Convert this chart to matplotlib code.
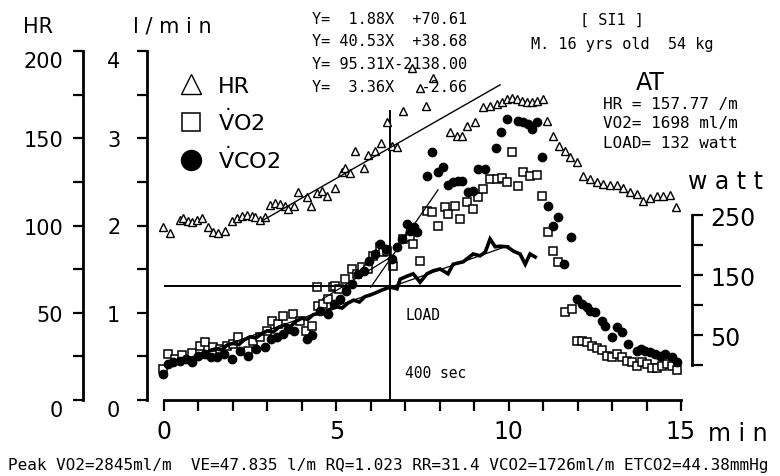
"""
Exercise test summary plot (subject SI1): HR, VO2, VCO2 and load vs time,
with the anaerobic threshold (AT) marked.
"""
import matplotlib
matplotlib.use("Agg")
import matplotlib.pyplot as plt
from matplotlib.ticker import FixedLocator, FuncFormatter
import numpy as np

# ---- data --------------------------------------------------------------
hr_t = [-0.02, 0.17, 0.46, 0.56, 0.71, 0.80, 0.95, 1.09, 1.29, 1.43,
        1.58, 1.77, 1.97, 2.11, 2.26, 2.40, 2.55, 2.64, 2.79, 2.93,
        3.08, 3.22, 3.37, 3.51, 3.61, 3.78, 3.90, 4.14, 4.27, 4.43,
        4.58, 4.72, 4.96, 5.16, 5.25, 5.40, 5.54, 5.79, 5.93, 6.12,
        6.30, 6.46, 6.61, 6.75, 6.94, 7.20, 7.43, 7.61, 7.81, 8.30,
        8.50, 8.64, 8.79, 9.03, 9.26, 9.46, 9.66, 9.80, 9.95, 10.09,
        10.24, 10.38, 10.53, 10.67, 10.82, 11.01, 11.12, 11.30, 11.45, 11.64,
        11.79, 11.98, 12.17, 12.37, 12.56, 12.75, 12.95, 13.14, 13.33, 13.53,
        13.72, 13.91, 14.11, 14.30, 14.49, 14.69, 14.86]
hr = [99.0, 95.5, 103.2, 104.3, 102.8, 101.8, 103.2, 104.3, 99.0, 96.1,
      95.7, 97.0, 102.8, 104.3, 105.6, 106.0, 105.3, 104.7, 103.3, 104.7,
      111.9, 112.9, 112.3, 111.3, 109.5, 111.0, 119.0, 116.2, 111.3, 118.6,
      119.9, 117.1, 121.5, 130.5, 132.8, 129.9, 142.5, 132.8, 140.4, 142.5,
      147.1, 159.1, 145.7, 144.8, 165.8, 190.3, 178.8, 168.7, 184.5, 153.6,
      151.5, 151.5, 157.2, 159.1, 167.9, 168.7, 169.6, 170.6, 172.5, 172.9,
      172.5, 171.5, 170.6, 170.9, 171.5, 172.5, 160.1, 151.1, 145.4, 142.9,
      139.1, 136.2, 128.5, 126.6, 124.8, 123.8, 123.2, 123.2, 121.3, 119.0,
      118.1, 114.2, 115.6, 117.1, 117.1, 117.5, 110.4]

vo2_t = [-0.03, 0.12, 0.32, 0.52, 0.81, 1.04, 1.19, 1.42, 1.63, 1.83,
         2.00, 2.15, 2.44, 2.58, 2.79, 2.99, 3.13, 3.31, 3.45, 3.74,
         3.95, 4.12, 4.30, 4.44, 4.47, 4.62, 4.76, 4.91, 4.96, 5.08,
         5.25, 5.46, 5.60, 5.75, 5.92, 6.07, 6.27, 6.36, 6.47, 6.65,
         6.94, 7.14, 7.23, 7.43, 7.63, 7.78, 7.95, 8.16, 8.24, 8.45,
         8.59, 8.80, 8.97, 9.11, 9.26, 9.46, 9.67, 9.81, 9.96, 10.10,
         10.28, 10.42, 10.62, 10.83, 10.97, 11.15, 11.29, 11.44, 11.64, 11.84,
         11.99, 12.13, 12.28, 12.42, 12.57, 12.71, 12.86, 13.00, 13.15, 13.29,
         13.44, 13.58, 13.73, 13.88, 14.02, 14.17, 14.31, 14.46, 14.60, 14.75,
         14.89]
vo2 = [0.36, 0.53, 0.47, 0.52, 0.54, 0.62, 0.66, 0.61, 0.58, 0.62,
       0.64, 0.72, 0.56, 0.68, 0.72, 0.79, 0.91, 0.87, 0.96, 0.99,
       0.91, 0.79, 0.85, 1.30, 1.08, 1.10, 1.16, 1.29, 1.31, 1.27,
       1.39, 1.50, 1.44, 1.52, 1.50, 1.65, 1.75, 1.70, 1.71, 1.54,
       1.85, 1.87, 1.79, 1.59, 2.17, 2.15, 1.99, 2.21, 2.13, 2.22,
       2.07, 2.27, 2.19, 2.33, 2.42, 2.53, 2.53, 2.54, 2.50, 2.84,
       2.45, 2.61, 2.57, 2.58, 2.34, 1.93, 1.71, 1.58, 1.01, 1.04,
       0.68, 0.68, 0.66, 0.62, 0.60, 0.57, 0.51, 0.49, 0.53, 0.49,
       0.45, 0.43, 0.39, 0.43, 0.41, 0.37, 0.37, 0.39, 0.41, 0.39,
       0.34]

vco2_t = [-0.03, 0.12, 0.26, 0.46, 0.64, 0.81, 0.99, 1.19, 1.36, 1.54,
          1.74, 1.97, 2.21, 2.44, 2.67, 2.93, 3.11, 3.28, 3.45, 3.60,
          3.77, 4.15, 4.30, 4.53, 4.76, 4.93, 5.11, 5.28, 5.46, 5.63,
          5.81, 5.95, 6.12, 6.27, 6.44, 6.62, 6.76, 6.91, 7.05, 7.14,
          7.26, 7.34, 7.63, 7.78, 7.95, 8.10, 8.24, 8.39, 8.53, 8.65,
          8.82, 8.97, 9.11, 9.32, 9.64, 9.78, 9.96, 10.28, 10.42, 10.57,
          10.68, 10.83, 10.97, 11.15, 11.29, 11.44, 11.60, 11.81, 11.99, 12.13,
          12.28, 12.37, 12.51, 12.71, 12.80, 13.00, 13.15, 13.29, 13.47, 13.73,
          13.85, 13.96, 14.11, 14.25, 14.40, 14.54, 14.75, 14.89]
vco2 = [0.30, 0.41, 0.44, 0.45, 0.47, 0.44, 0.50, 0.53, 0.49, 0.49,
        0.53, 0.47, 0.56, 0.50, 0.58, 0.61, 0.70, 0.72, 0.76, 0.81,
        0.79, 0.70, 0.74, 1.02, 0.99, 1.10, 1.16, 1.25, 1.33, 1.44,
        1.48, 1.59, 1.67, 1.79, 1.73, 1.62, 1.75, 1.85, 2.02, 1.94,
        1.98, 1.93, 2.57, 2.84, 2.61, 2.67, 2.46, 2.50, 2.51, 2.51,
        2.38, 2.40, 2.65, 2.65, 2.89, 3.07, 3.22, 3.20, 3.19, 3.16,
        3.11, 3.19, 2.79, 2.22, 1.99, 2.10, 1.56, 1.87, 1.16, 1.10,
        1.07, 1.02, 1.01, 0.91, 0.85, 0.72, 0.84, 0.78, 0.64, 0.56,
        0.58, 0.56, 0.55, 0.53, 0.50, 0.53, 0.49, 0.44]

load_t = [0.17, 0.33, 0.50, 0.67, 0.83, 1.00, 1.17, 1.33, 1.50, 1.67,
          1.83, 2.00, 2.17, 2.33, 2.50, 2.67, 2.83, 3.00, 3.17, 3.33,
          3.50, 3.67, 3.83, 4.00, 4.17, 4.33, 4.50, 4.67, 4.83, 5.00,
          5.17, 5.33, 5.50, 5.67, 5.83, 6.00, 6.17, 6.33, 6.56, 6.76,
          6.85, 7.05, 7.23, 7.43, 7.63, 7.81, 8.01, 8.24, 8.39, 8.68,
          8.97, 9.17, 9.32, 9.46, 9.61, 9.75, 9.96, 10.13, 10.33, 10.48,
          10.62, 10.77]
load = [4, 2, 8, 12, 10, 18, 16, 24, 27, 25,
        33, 36, 34, 42, 47, 45, 52, 57, 55, 63,
        67, 64, 73, 78, 76, 84, 86, 85, 93, 97,
        95, 103, 108, 105, 114, 117, 121, 125, 130, 127,
        143, 148, 152, 138, 152, 157, 160, 152, 168, 172,
        185, 182, 188, 210, 197, 198, 197, 190, 185, 168,
        185, 180]

# regressions printed on the chart: Y = a*X + b, X in 10-s steps
fit_hr = (1.88, 70.61)        # beats/min
fit_vo2 = (40.53, 38.68)      # ml/min
fit_vco2 = (95.31, -2138.00)  # ml/min
fit_load = (3.36, -2.66)      # watt
span_hr = (2.85, 9.75)
span_vo2 = (4.6, 6.6)
span_vco2 = (6.0, 7.95)
span_load = (0.5, 10.0)

at_min = 6.57      # AT time (400 sec)
at_load = 132      # watt

equations = ["Y=  1.88X  +70.61",
             "Y= 40.53X  +38.68",
             "Y= 95.31X-2138.00",
             "Y=  3.36X   -2.66"]
at_lines = ["HR = 157.77 /m", "VO2= 1698 ml/m", "LOAD= 132 watt"]
footer = ("Peak VO2=2845ml/m  VE=47.835 l/m RQ=1.023 RR=31.4 "
          "VCO2=1726ml/m ETCO2=44.38mmHg")

# ---- layout (pixels of the 780x477 picture) ----------------------------
W, H = 780, 477
PT = 72 / 100  # points per pixel at dpi 100
MONO = "DejaVu Sans Mono"
plt.rcParams["mathtext.fontset"] = "dejavusans"


def fpos(x, y):
    return x / W, 1 - y / H


def fit_line(coef, span, scale=1.0):
    t = np.array(span)
    return t, (coef[0] * t * 6 + coef[1]) * scale


fig = plt.figure(figsize=(7.8, 4.77), dpi=100)
ax = fig.add_axes([164 / W, 1 - 401 / H, (681 - 164) / W, (401 - 52) / H])
ax.set_xlim(0, 15)
ax.set_ylim(0, 4)

ax_hr = ax.twinx()
ax_hr.set_ylim(0, 200)
ax_w = ax.twinx()
ax_w.set_ylim((366 - 401) / 0.6, (366 - 52) / 0.6)

for a in (ax, ax_hr, ax_w):
    for s in a.spines.values():
        s.set_visible(False)
        s.set_linewidth(2)

# x axis
ax.spines["bottom"].set_visible(True)
ax.xaxis.set_major_locator(FixedLocator(np.arange(0, 16)))
ax.xaxis.set_major_formatter(
    FuncFormatter(lambda v, p: f"{v:.0f}" if v % 5 == 0 else ""))
ax.tick_params(axis="x", direction="out", length=11 * PT, width=1.6,
               labelsize=17, pad=6)

# l/min axis
ax.spines["left"].set_visible(True)
ax.spines["left"].set_position(("outward", 17 * PT))
ax.yaxis.set_major_locator(FixedLocator([0, 1, 2, 3, 4]))
ax.yaxis.set_minor_locator(FixedLocator([0.5, 1.5, 2.5, 3.5]))
ax.tick_params(axis="y", which="both", direction="out", length=10 * PT,
               width=1.6, labelsize=15, pad=12)

# HR axis
ax_hr.spines["left"].set_visible(True)
ax_hr.spines["left"].set_position(("outward", 81 * PT))
ax_hr.yaxis.tick_left()
ax_hr.yaxis.set_major_locator(FixedLocator([0, 50, 100, 150, 200]))
ax_hr.yaxis.set_minor_locator(FixedLocator([25, 75, 125, 175]))
ax_hr.tick_params(axis="y", which="both", direction="out", length=10 * PT,
                  width=1.6, labelsize=15, pad=7)

# watt axis
ax_w.spines["right"].set_visible(True)
ax_w.spines["right"].set_position(("outward", 11 * PT))
ax_w.spines["right"].set_bounds(0, 250)
ax_w.yaxis.set_major_locator(FixedLocator([50, 150, 250]))
ax_w.yaxis.set_minor_locator(FixedLocator([0, 100, 200]))
ax_w.tick_params(axis="y", which="both", direction="out", length=11 * PT,
                 width=1.6, labelsize=17, pad=5)

# ---- marks -------------------------------------------------------------
h_hr, = ax_hr.plot(hr_t, hr, ls="none", marker="^", ms=6, mfc="white",
                   mec="black", mew=1.0, clip_on=False, label="HR")
h_vo2, = ax.plot(vo2_t, vo2, ls="none", marker="s", ms=5.5, mfc="white",
                 mec="black", mew=1.1, clip_on=False,
                 label=r"$\dot{\mathrm{V}}$O2")
h_vco2, = ax.plot(vco2_t, vco2, ls="none", marker="o", ms=6, color="black",
                  clip_on=False, label=r"$\dot{\mathrm{V}}$CO2")
ax_w.plot(load_t, load, color="black", lw=2.6, solid_joinstyle="miter")

# regression lines
ax_hr.plot(*fit_line(fit_hr, span_hr), color="black", lw=1.0)
ax.plot(*fit_line(fit_vo2, span_vo2, 1e-3), color="black", lw=0.9)
ax.plot(*fit_line(fit_vco2, span_vco2, 1e-3), color="black", lw=0.9)
ax_w.plot(*fit_line(fit_load, span_load), color="black", lw=0.9)

# AT cross-hair
ax_w.axhline(at_load, xmin=0, xmax=1, color="black", lw=1.4)
ax.plot([at_min, at_min], [0, 3.31], color="black", lw=1.4)

# ---- text --------------------------------------------------------------
fig.legend(handles=[h_hr, h_vo2, h_vco2], loc="upper left",
           bbox_to_anchor=fpos(180, 77), frameon=False, fontsize=16,
           markerscale=2.4, handlelength=1.0, handletextpad=0.7,
           labelspacing=0.5, borderpad=0, borderaxespad=0)

fig.text(*fpos(38, 27), "HR", fontsize=15, ha="center", va="center")
fig.text(*fpos(172, 27), "l / m i n", fontsize=15, ha="center", va="center")
fig.text(*fpos(726, 182), "w a t t", fontsize=17, ha="center", va="center")
fig.text(*fpos(708, 434), "m i n", fontsize=17, ha="left", va="center")

for i, s in enumerate(equations):
    fig.text(*fpos(312, 19 + 22.7 * i), s, family=MONO, fontsize=11,
             va="center")
fig.text(*fpos(612, 20), "[ SI1 ]", family=MONO, fontsize=11,
         ha="center", va="center")
fig.text(*fpos(622, 44), "M. 16 yrs old  54 kg", family=MONO, fontsize=11,
         ha="center", va="center")
fig.text(*fpos(650, 83), "AT", fontsize=17, ha="center", va="center")
for i, s in enumerate(at_lines):
    fig.text(*fpos(603, 104 + 19.5 * i), s, family=MONO, fontsize=11.5,
             va="center")
fig.text(*fpos(405, 316), "LOAD", family=MONO, fontsize=10.5, va="center")
fig.text(*fpos(405, 374), "400 sec", family=MONO, fontsize=10.5,
         va="center")
fig.text(*fpos(8, 466), footer, family=MONO, fontsize=11.5, va="center")

# the end labels of the two left scales sit just below their ticks
fig.canvas.draw()
for a in (ax, ax_hr):
    ticks = a.yaxis.get_major_ticks()
    ticks[0].label1.set_va("top")
    ticks[-1].label1.set_va("top")

fig.savefig("out.png", dpi=100)
